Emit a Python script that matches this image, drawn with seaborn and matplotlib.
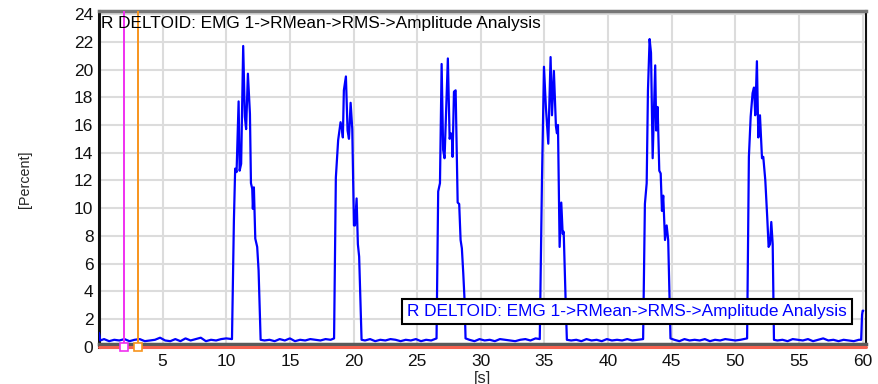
import numpy as np
import matplotlib
matplotlib.use("Agg")
import matplotlib.pyplot as plt
import seaborn as sns
import pandas as pd

# ---- data (time in s, amplitude in %) ----
rest0_t = [0.0, 0.1, 0.4, 0.8, 1.2, 1.6, 2.0, 2.4, 2.8, 3.2, 3.6, 4.0, 4.4, 4.8,
           5.2, 5.6, 6.0, 6.4, 6.8, 7.2, 7.6, 8.0, 8.4, 8.8, 9.2, 9.6, 10.0, 10.45]
rest0_v = [1.0, 0.45, 0.55, 0.4, 0.5, 0.45, 0.55, 0.4, 0.5, 0.55, 0.4, 0.45, 0.5, 0.65,
           0.45, 0.4, 0.55, 0.4, 0.6, 0.45, 0.55, 0.65, 0.4, 0.5, 0.45, 0.55, 0.6, 0.55]

burst1_t = [10.60, 10.70, 10.81, 10.97, 11.05, 11.17, 11.33, 11.46, 11.56, 11.70,
            11.86, 11.94, 12.04, 12.09, 12.17, 12.28, 12.43, 12.54, 12.70]
burst1_v = [9.1, 12.85, 12.6, 17.7, 12.7, 13.2, 21.7, 16.6, 15.7, 19.7,
            16.8, 11.8, 11.4, 9.95, 11.5, 7.8, 7.2, 5.5, 0.5]

rest1_t = [13.0, 13.4, 13.8, 14.2, 14.6, 15.0, 15.4, 15.8, 16.2, 16.6, 17.0, 17.4, 17.8, 18.2, 18.47]
rest1_v = [0.45, 0.5, 0.4, 0.55, 0.45, 0.6, 0.4, 0.5, 0.45, 0.55, 0.5, 0.45, 0.55, 0.5, 0.6]

burst2_t = [18.61, 18.79, 18.98, 19.09, 19.16, 19.24, 19.40, 19.53, 19.64, 19.77,
            19.90, 20.03, 20.11, 20.24, 20.34, 20.44, 20.63]
burst2_v = [12.2, 14.9, 16.2, 15.7, 15.1, 18.5, 19.5, 15.6, 15.0, 17.6,
            15.7, 8.75, 8.75, 10.7, 7.4, 6.5, 0.5]

rest2_t = [20.9, 21.3, 21.7, 22.1, 22.5, 22.9, 23.3, 23.7, 24.1, 24.5, 24.9, 25.3, 25.7, 26.1, 26.52]
rest2_v = [0.45, 0.55, 0.4, 0.5, 0.45, 0.55, 0.5, 0.4, 0.5, 0.45, 0.55, 0.4, 0.5, 0.45, 0.6]

burst3_t = [26.65, 26.79, 26.92, 27.04, 27.15, 27.41, 27.55, 27.65, 27.73, 27.78,
            27.89, 28.02, 28.10, 28.18, 28.30, 28.41, 28.51, 28.62, 28.72, 28.80]
burst3_v = [11.2, 11.8, 20.4, 14.2, 13.6, 20.8, 15.0, 15.4, 15.1, 13.7,
            18.4, 18.5, 14.4, 10.4, 10.3, 7.7, 7.1, 5.3, 3.4, 0.6]

rest3_t = [29.1, 29.5, 29.9, 30.3, 30.7, 31.1, 31.5, 31.9, 32.3, 32.7, 33.1, 33.5, 33.9, 34.3, 34.63]
rest3_v = [0.5, 0.4, 0.55, 0.45, 0.5, 0.4, 0.55, 0.5, 0.45, 0.4, 0.5, 0.55, 0.45, 0.6, 0.55]

burst4_t = [34.80, 34.96, 35.11, 35.30, 35.48, 35.59, 35.74, 35.90, 35.98, 36.06,
            36.19, 36.32, 36.43, 36.51, 36.66, 36.76]
burst4_v = [11.8, 20.2, 17.3, 14.65, 20.9, 16.7, 19.9, 15.9, 15.4, 16.0,
            7.2, 10.4, 8.15, 8.3, 3.4, 0.5]

rest4_t = [37.1, 37.5, 37.9, 38.3, 38.7, 39.1, 39.5, 39.9, 40.3, 40.7, 41.1, 41.5, 41.9, 42.3, 42.75]
rest4_v = [0.45, 0.5, 0.4, 0.55, 0.45, 0.5, 0.4, 0.55, 0.45, 0.5, 0.45, 0.55, 0.45, 0.5, 0.55]

burst5_t = [42.89, 43.03, 43.13, 43.26, 43.37, 43.50, 43.70, 43.78, 43.89, 44.02,
            44.13, 44.23, 44.33, 44.47, 44.60, 44.72, 44.90]
burst5_v = [10.3, 11.8, 18.5, 22.2, 21.2, 13.6, 20.3, 15.6, 17.3, 12.7,
            12.5, 9.8, 10.9, 7.7, 8.75, 7.7, 0.6]

rest5_t = [45.2, 45.6, 46.0, 46.4, 46.8, 47.2, 47.6, 48.0, 48.4, 48.8, 49.2, 49.6, 50.0, 50.4, 50.92]
rest5_v = [0.5, 0.4, 0.55, 0.45, 0.5, 0.45, 0.55, 0.4, 0.5, 0.45, 0.55, 0.5, 0.45, 0.5, 0.6]

burst6_t = [51.06, 51.20, 51.35, 51.46, 51.56, 51.69, 51.80, 51.93, 52.09, 52.19,
            52.35, 52.50, 52.61, 52.72, 52.82, 52.93, 53.03]
burst6_v = [13.7, 16.6, 18.3, 18.7, 16.7, 20.6, 15.1, 16.7, 13.6, 13.7,
            12.0, 9.35, 7.2, 7.4, 9.0, 7.4, 0.5]

rest6_t = [53.3, 53.7, 54.1, 54.5, 54.9, 55.3, 55.7, 56.1, 56.5, 56.9, 57.3, 57.7,
           58.1, 58.5, 58.9, 59.3, 59.7, 59.88, 59.95, 60.0, 60.05]
rest6_v = [0.45, 0.5, 0.4, 0.55, 0.5, 0.45, 0.55, 0.4, 0.5, 0.6, 0.45, 0.5,
           0.4, 0.5, 0.45, 0.4, 0.5, 0.5, 2.3, 2.6, 2.6]

cursor_t = [1.96, 3.03]
cursor_colors = ["#f030f0", "#f7941d"]

y_ticks = list(range(0, 25, 2))
x_ticks = list(range(5, 61, 5))
series_name = "R DELTOID: EMG 1->RMean->RMS->Amplitude Analysis"

time_s = (rest0_t + burst1_t + rest1_t + burst2_t + rest2_t + burst3_t + rest3_t
          + burst4_t + rest4_t + burst5_t + rest5_t + burst6_t + rest6_t)
amp = (rest0_v + burst1_v + rest1_v + burst2_v + rest2_v + burst3_v + rest3_v
       + burst4_v + rest4_v + burst5_v + rest5_v + burst6_v + rest6_v)
df = pd.DataFrame({"t": time_s, "amp": amp, "name": series_name})

sns.set_style("white")
plt.rcParams["font.family"] = ["Liberation Sans", "DejaVu Sans"]

fig = plt.figure(figsize=(8.79, 3.84), dpi=100)
ax = fig.add_axes([0.1126, 0.0971, 0.8726, 0.8734])

sns.lineplot(data=df, x="t", y="amp", hue="name", palette=["#0000ff"], estimator=None,
             sort=False, lw=1.6, ax=ax, zorder=3)

# cursors
for ct, cc in zip(cursor_t, cursor_colors):
    ax.axvline(ct, color=cc, lw=1.4, zorder=4)
ax.axhline(0, color="#f4604f", lw=2.2, clip_on=False, zorder=5)
for ct, cc in zip(cursor_t, cursor_colors):
    ax.plot([ct], [0], linestyle="none", marker="s", markersize=6, markerfacecolor="white",
            markeredgecolor=cc, markeredgewidth=1.2, clip_on=False, zorder=7)

ax.set_xlim(0, 60.26)
ax.set_ylim(0, 24.2)
ax.set_xticks(x_ticks)
ax.set_yticks(y_ticks)
ax.grid(True, color="#dcdcdc", lw=1.5)
ax.set_axisbelow(True)
ax.tick_params(length=0, labelsize=12.5, colors="#111111")
ax.tick_params(axis="x", pad=7)
ax.tick_params(axis="y", pad=4)

ax.spines["left"].set_color("#111111")
ax.spines["left"].set_linewidth(2.2)
ax.spines["right"].set_color("#111111")
ax.spines["right"].set_linewidth(1.5)
ax.spines["top"].set_color("#777777")
ax.spines["top"].set_linewidth(2.5)
ax.spines["bottom"].set_color("#5a5a5a")
ax.spines["bottom"].set_linewidth(2.5)
ax.spines["bottom"].set_position(("outward", -2))

ax.set_xlabel("[s]", fontsize=12, labelpad=1.5)
ax.set_ylabel("[Percent]", fontsize=10.3, labelpad=30)

ax.text(0.003, 0.985, series_name, transform=ax.transAxes, fontsize=12.4,
        ha="left", va="top", color="#000000", zorder=7)

leg = ax.legend(loc="upper left", bbox_to_anchor=(0.3957, 0.142), borderaxespad=0,
                handlelength=0, handletextpad=0, borderpad=0.28, fontsize=12.4,
                fancybox=False, framealpha=1, edgecolor="#000000", labelcolor="#0000ff")
for h in leg.legend_handles:
    h.set_visible(False)
leg.get_frame().set_linewidth(1.5)
leg.set_zorder(8)

fig.savefig("out.png", dpi=100)
